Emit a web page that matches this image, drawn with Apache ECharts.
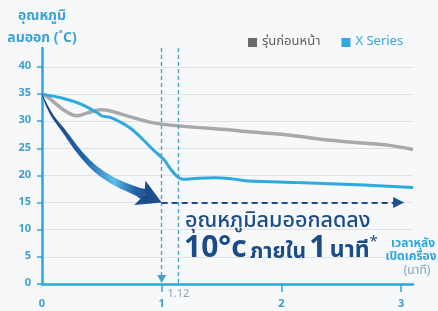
<!DOCTYPE html>
<html><head><meta charset="utf-8">
<script src="https://cdn.jsdelivr.net/npm/echarts@6/dist/echarts.min.js"></script>
<style>html,body{margin:0;padding:0;background:#f7f8fa;}#c{width:438px;height:311px;}</style>
</head><body><div id="c"></div>
<script>
// ---- data ----
const seriesNames = ['รุ่นก่อนหน้า', 'X Series'];
const previousModel = [[0,35],[0.04,34.6],[0.18,32.1],[0.29,31.0],[0.375,31.5],[0.49,32.1],[0.57,31.9],[0.74,30.8],[0.93,29.7],[1.16,29.1],[1.58,28.4],[1.7,28.1],[2.0,27.6],[2.33,26.7],[2.67,26.0],[2.89,25.6],[3.1,24.8]];
const xSeries = [[0,35],[0.18,34.2],[0.32,33.2],[0.46,31.6],[0.5,31.0],[0.57,30.7],[0.65,29.9],[0.74,28.7],[0.85,26.5],[0.93,24.7],[1.02,22.9],[1.07,21.3],[1.13,19.8],[1.18,19.3],[1.3,19.5],[1.44,19.6],[1.58,19.4],[1.72,19.0],[2.13,18.7],[2.69,18.25],[3.1,17.8]];
const xTickLabels = [0, 1, 2, 3];
const yTickLabels = [0, 5, 10, 15, 20, 25, 30, 35, 40];
const markTimes = [1, 1.14];
const markTimeLabel = '1.12';
const arrowPath = [[0,35],[0.03,33.4],[0.09,30.9],[0.176,28.4],[0.32,24.1],[0.46,21.0],[0.63,18.6],[0.8,17.0]];
const arrowTip = [1, 15];
const dropArrowEnd = [2.98, 15];
const yMax = 43.5, xMax = 3.1;

const FONT = '"Noto Sans Thai","Noto Sans","DejaVu Sans",sans-serif';
const chart = echarts.init(document.getElementById('c'));

function arrowRender(params, api) {
  const pts = arrowPath.map(p => api.coord(p));
  const tip = api.coord(arrowTip);
  const lastP = pts[pts.length - 1];
  let hx = tip[0] - lastP[0], hy = tip[1] - lastP[1];
  const hl = Math.hypot(hx, hy); hx /= hl; hy /= hl;
  const L = 24, H = 13.5;
  const base = [tip[0] - hx * L, tip[1] - hy * L];
  pts.push([base[0] + hx * 4, base[1] + hy * 4]);
  const n = pts.length;
  const left = [], right = [];
  for (let i = 0; i < n; i++) {
    const a = pts[Math.max(0, i - 1)], b = pts[Math.min(n - 1, i + 1)];
    let dx = b[0] - a[0], dy = b[1] - a[1];
    const l = Math.hypot(dx, dy) || 1; dx /= l; dy /= l;
    const t = i / (n - 1);
    const w = 0.3 + 4.6 * Math.pow(t, 1.1);
    left.push([pts[i][0] - dy * w, pts[i][1] + dx * w]);
    right.push([pts[i][0] + dy * w, pts[i][1] - dx * w]);
  }
  const body = left.concat(right.reverse());
  const head = [tip, [base[0] - hy * H, base[1] + hx * H], [base[0] + hx * 5, base[1] + hy * 5], [base[0] + hy * H, base[1] - hx * H]];
  const start = pts[0];
  const grad = new echarts.graphic.LinearGradient(start[0], 0, tip[0], 0, [
    {offset: 0, color: '#1b3f7d'}, {offset: 0.35, color: '#2163a6'},
    {offset: 0.6, color: '#5bbcea'}, {offset: 0.78, color: '#2560a3'}, {offset: 1, color: '#1a4585'}], true);
  return {type: 'group', children: [
    {type: 'polygon', shape: {points: body, smooth: 0.3}, style: {fill: grad}},
    {type: 'polygon', shape: {points: head}, style: {fill: '#1c4d8f'}}
  ]};
}

const option = {
  backgroundColor: '#f7f8fa',
  animation: false,
  textStyle: {fontFamily: FONT},
  grid: {left: 42, right: 25, top: 48, bottom: 27},
  legend: {
    left: 243, top: 31, icon: 'rect', itemWidth: 9, itemHeight: 9, itemGap: 21,
    textStyle: {fontSize: 13, fontFamily: FONT},
    data: [{name: seriesNames[0], textStyle: {color: '#5e5e5e'}}, {name: seriesNames[1], textStyle: {color: '#35a9df'}}]
  },
  xAxis: {
    type: 'value', min: 0, max: xMax, interval: 1,
    axisLine: {lineStyle: {color: '#2ba7df', width: 2.5}},
    axisTick: {show: true, customValues: xTickLabels.slice(1), length: 8, lineStyle: {color: '#2ba7df', width: 1.5}},
    axisLabel: {customValues: xTickLabels, color: '#3d9fcc', fontSize: 11, fontWeight: 'bold', margin: 15, fontFamily: FONT},
    splitLine: {show: false}
  },
  yAxis: {
    type: 'value', min: 0, max: yMax, interval: 5,
    name: 'อุณหภูมิ\nลมออก (˚C)', nameLocation: 'end', nameGap: -2,
    nameTextStyle: {align: 'center', verticalAlign: 'bottom', fontSize: 14, fontWeight: 'bold', color: '#3aa3d6', lineHeight: 22, fontFamily: FONT},
    axisLine: {show: true, lineStyle: {color: '#2ba7df', width: 2.5}},
    axisTick: {show: true, inside: false, length: 5, customValues: yTickLabels, lineStyle: {color: '#2ba7df', width: 1.5}},
    axisLabel: {customValues: yTickLabels, color: '#3d9fcc', fontSize: 11, fontWeight: 'bold', margin: 11, fontFamily: FONT},
    splitLine: {show: true, lineStyle: {color: ['transparent', '#dfe1e3', '#dfe1e3', '#dfe1e3', '#dfe1e3', '#dfe1e3', '#dfe1e3', '#dfe1e3', '#dfe1e3', 'transparent'], width: 1.2}}
  },
  series: [
    {
      name: seriesNames[0], type: 'line', data: previousModel, smooth: 0.35, showSymbol: false,
      lineStyle: {color: '#a9a9ab', width: 3.5}, itemStyle: {color: '#6b6b6b'}, z: 3,
      markLine: {
        silent: true, symbol: ['none', 'none'], label: {show: false}, animation: false,
        lineStyle: {color: '#4f9ec9', type: [4, 3], width: 1.3},
        data: [
          [{coord: [markTimes[0], yMax], symbol: 'none'}, {coord: [markTimes[0], 0.9], symbol: 'triangle', symbolSize: [9, 8]}],
          [{coord: [markTimes[1], yMax]}, {coord: [markTimes[1], 0]}]
        ]
      }
    },
    {
      name: seriesNames[1], type: 'line', data: xSeries, smooth: 0.35, showSymbol: false,
      lineStyle: {color: '#2eaae1', width: 3}, itemStyle: {color: '#2eaae1'}, z: 4,
      markLine: {
        silent: true, label: {show: false}, animation: false,
        symbol: ['none', 'triangle'], symbolSize: [11, 11],
        lineStyle: {color: '#1f4f8f', type: [6, 4], width: 2},
        data: [[{coord: arrowTip}, {coord: dropArrowEnd}]]
      }
    },
    {type: 'custom', data: [0], renderItem: arrowRender, z: 5, silent: true, clip: false}
  ]
};
chart.setOption(option);

const NAVY = '#1c4b8a';
const pMark = chart.convertToPixel({gridIndex: 0}, [markTimes[1], 0]);
chart.setOption({graphic: [
  {type: 'text', x: pMark[0], y: pMark[1] + 5, style: {text: markTimeLabel, align: 'center', fill: '#8aa7b8', font: '11px ' + FONT}},
  {type: 'text', x: 185, y: 212, style: {text: 'อุณหภูมิลมออกลดลง', fill: NAVY, font: '500 21.5px ' + FONT}},
  {type: 'text', x: 184, y: 266, style: {
    text: '{a|10°c} {b|ภายใน} {a|1} {c|นาที}{d|*}', verticalAlign: 'bottom', fill: NAVY,
    rich: {
      a: {fontSize: 30, fontWeight: 'bold', fill: NAVY, fontFamily: FONT, verticalAlign: 'bottom'},
      b: {fontSize: 21, fontWeight: 'bold', fill: NAVY, fontFamily: FONT, verticalAlign: 'bottom', padding: [0, 0, 2, 0]},
      c: {fontSize: 23, fontWeight: 'bold', fill: NAVY, fontFamily: FONT, verticalAlign: 'bottom', padding: [0, 0, 2, 0]},
      d: {fontSize: 15, fill: NAVY, fontFamily: FONT, verticalAlign: 'top', padding: [0, 0, 16, 0]}
    }}},
  {type: 'text', x: 413, y: 245, style: {text: 'เวลาหลัง', align: 'center', verticalAlign: 'middle', fill: '#2ea6dc', font: 'bold 12px ' + FONT}},
  {type: 'text', x: 411, y: 258, style: {text: 'เปิดเครื่อง', align: 'center', verticalAlign: 'middle', fill: '#2ea6dc', font: 'bold 12px ' + FONT}},
  {type: 'text', x: 417, y: 272, style: {text: '(นาที)', align: 'center', verticalAlign: 'middle', fill: '#7fa9c0', font: '12px ' + FONT}}
]});
</script>
</body></html>
